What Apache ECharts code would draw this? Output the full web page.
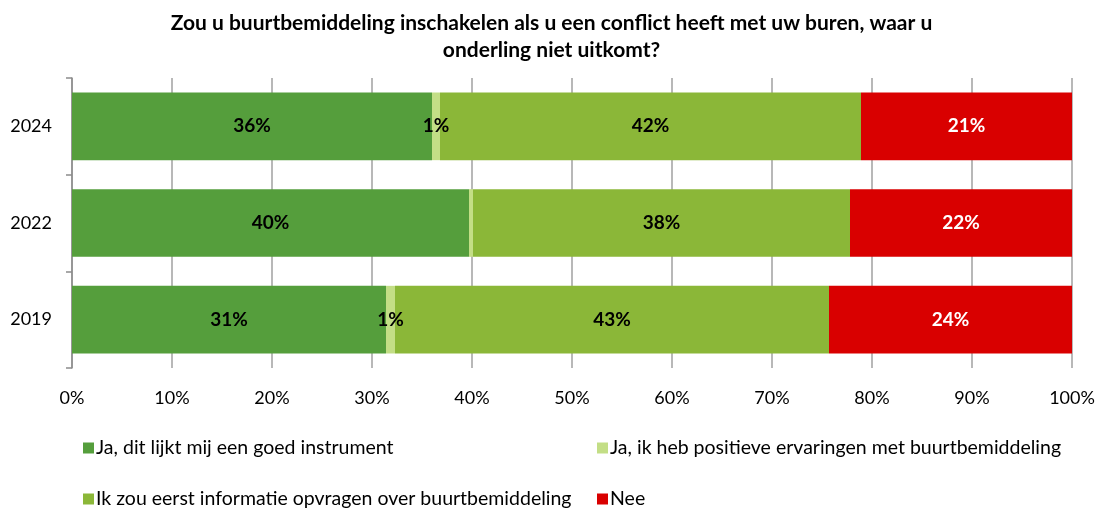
<!DOCTYPE html>
<html>
<head>
<meta charset="utf-8">
<script src="https://cdn.jsdelivr.net/npm/echarts@6/dist/echarts.min.js"></script>
<style>html,body{margin:0;padding:0;background:#fff}#c{width:1103px;height:513px}</style>
</head>
<body>
<div id="c"></div>
<script>
const titleText = 'Zou u buurtbemiddeling inschakelen als u een conflict heeft met uw buren, waar u\nonderling niet uitkomt?';
const years = ['2019', '2022', '2024'];
const seriesNames = [
  'Ja, dit lijkt mij een goed instrument',
  'Ja, ik heb positieve ervaringen met buurtbemiddeling',
  'Ik zou eerst informatie opvragen over buurtbemiddeling',
  'Nee'
];
const jaInstrument = [31.4, 39.7, 36.0];
const jaErvaring = [0.9, 0.4, 0.8];
const informatie = [43.4, 37.7, 42.1];
const nee = [24.3, 22.2, 21.1];
const xTicks = [0, 10, 20, 30, 40, 50, 60, 70, 80, 90, 100];

const colors = ['#559E3C', '#C3DE86', '#8BB738', '#D90000'];
const labelColors = ['#000', '#000', '#000', '#fff'];
const values = [jaInstrument, jaErvaring, informatie, nee];
const FONT = 'Lato, "Open Sans", sans-serif';

const chart = echarts.init(document.getElementById('c'));
const series = seriesNames.map((n, i) => ({
  name: n,
  type: 'bar',
  stack: 'total',
  barCategoryGap: '30%',
  data: values[i],
  itemStyle: { color: colors[i] },
  label: {
    show: true,
    position: 'inside',
    color: labelColors[i],
    fontFamily: FONT,
    fontWeight: 'bold',
    fontSize: 19,
    formatter: p => { const r = Math.round(p.value); return r > 0 ? r + '%' : ''; }
  }
}));

const legendPos = [
  { left: 83, top: 438 },
  { left: 597, top: 438 },
  { left: 83, top: 489 },
  { left: 597, top: 489 }
];
const legends = seriesNames.map((n, i) => ({
  data: [n],
  left: legendPos[i].left,
  top: legendPos[i].top,
  itemWidth: 11,
  itemHeight: 11,
  icon: 'rect',
  textStyle: { fontFamily: FONT, fontSize: 19.5, color: '#000', padding: [0, 0, 0, -3] },
  padding: 0
}));

chart.setOption({
  animation: false,
  title: {
    text: titleText,
    left: 'center',
    top: 5,
    textStyle: { fontFamily: FONT, fontWeight: 'bold', fontSize: 21, color: '#000', lineHeight: 27 }
  },
  legend: legends,
  grid: { left: 72, right: 31, top: 78, bottom: 145 },
  xAxis: {
    type: 'value',
    min: 0,
    max: 100,
    interval: 10,
    axisLine: { show: false },
    axisTick: { show: false },
    splitLine: { show: true, lineStyle: { color: '#A0A0A0', width: 1.5 } },
    axisLabel: {
      formatter: v => v + '%',
      fontFamily: FONT,
      fontSize: 18,
      color: '#000',
      margin: 21
    }
  },
  yAxis: {
    type: 'category',
    data: years,
    axisLine: { show: true, lineStyle: { color: '#8C8C8C', width: 1.5 } },
    axisTick: { show: true, length: 6, lineStyle: { color: '#8C8C8C', width: 1.5 } },
    axisLabel: { fontFamily: FONT, fontSize: 18, color: '#000', margin: 20 }
  },
  series: series
});
</script>
</body>
</html>
